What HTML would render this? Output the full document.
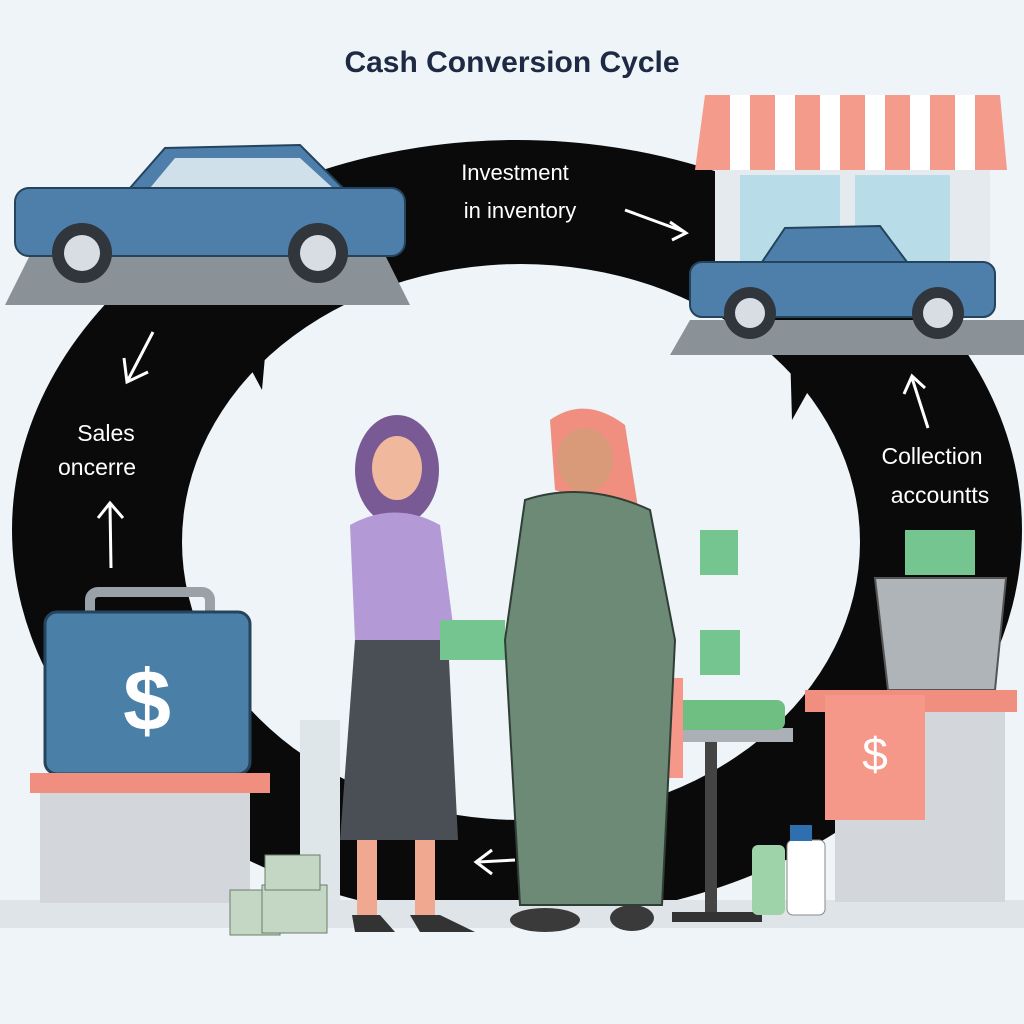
<!DOCTYPE html>
<html><head><meta charset="utf-8"><style>
html,body{margin:0;padding:0;background:#eef4f7}
svg{display:block}
text{font-family:"Liberation Sans",sans-serif}
</style></head><body>
<svg width="1024" height="1024" viewBox="0 0 1024 1024" xmlns="http://www.w3.org/2000/svg">
<rect width="1024" height="1024" fill="#eef4f7"/>
<!-- ring -->
<path fill-rule="evenodd" fill="#0a0a0a" d="M12,530 A505,390 0 1,0 1022,530 A505,390 0 1,0 12,530 Z M182,542 A339,278 0 1,0 860,542 A339,278 0 1,0 182,542 Z"/>
<polygon points="200,330 270,300 262,390 238,345" fill="#0a0a0a"/>
<polygon points="790,350 840,345 850,400 820,370 792,420" fill="#0a0a0a"/>
<rect x="0" y="920" width="1024" height="104" fill="#eef4f7"/>
<rect x="0" y="900" width="1024" height="28" fill="#dfe4e8"/>
<text x="512" y="72" text-anchor="middle" font-size="30" font-weight="bold" fill="#1e2a44">Cash Conversion Cycle</text>
<text x="515" y="180" text-anchor="middle" font-size="22" fill="#fff">Investment</text>
<text x="520" y="218" text-anchor="middle" font-size="22" fill="#fff">in inventory</text>
<path d="M625,210 L685,232 M670,222 L686,233 L672,240" stroke="#fff" stroke-width="3" fill="none"/>
<text x="106" y="441" text-anchor="middle" font-size="23" fill="#fff">Sales</text>
<text x="97" y="475" text-anchor="middle" font-size="23" fill="#fff">oncerre</text>
<path d="M153,332 L128,380 M124,358 L127,382 L148,372" stroke="#fff" stroke-width="3" fill="none"/>
<path d="M111,568 L110,505 M98,518 L110,503 L123,518" stroke="#fff" stroke-width="3" fill="none"/>
<text x="932" y="464" text-anchor="middle" font-size="23" fill="#fff">Collection</text>
<text x="940" y="503" text-anchor="middle" font-size="23" fill="#fff">accountts</text>
<path d="M928,428 L912,378 M904,394 L912,376 L925,388" stroke="#fff" stroke-width="3" fill="none"/>
<path d="M515,860 L478,862 M492,850 L476,862 L492,874" stroke="#fff" stroke-width="3" fill="none"/>
<!-- left car -->
<polygon points="5,305 410,305 385,255 30,255" fill="#8a9298"/>
<polygon points="130,188 165,148 300,145 345,190" fill="#4e7eaa" stroke="#24445e" stroke-width="2"/>
<polygon points="150,188 175,158 300,158 335,190" fill="#cfe0ea"/>
<rect x="15" y="188" width="390" height="68" rx="14" fill="#4e7eaa" stroke="#24445e" stroke-width="2"/>
<circle cx="82" cy="253" r="30" fill="#30363c"/><circle cx="82" cy="253" r="18" fill="#d7dde2"/>
<circle cx="318" cy="253" r="30" fill="#30363c"/><circle cx="318" cy="253" r="18" fill="#d7dde2"/>
<!-- shop -->
<rect x="715" y="165" width="275" height="145" fill="#e4eaee"/>
<rect x="740" y="175" width="100" height="100" fill="#b9dde8"/><rect x="855" y="175" width="95" height="100" fill="#b9dde8"/>
<polygon points="705,95 1000,95 1007,170 695,170" fill="#f59b8c"/>
<g fill="#fff"><rect x="730" y="95" width="20" height="75"/><rect x="775" y="95" width="20" height="75"/><rect x="820" y="95" width="20" height="75"/><rect x="865" y="95" width="20" height="75"/><rect x="910" y="95" width="20" height="75"/><rect x="955" y="95" width="20" height="75"/></g>
<polygon points="670,355 1024,355 1024,320 690,320" fill="#8a9298"/>
<polygon points="760,265 785,228 880,226 910,266" fill="#4e7eaa" stroke="#24445e" stroke-width="2"/>
<rect x="690" y="262" width="305" height="55" rx="12" fill="#4e7eaa" stroke="#24445e" stroke-width="2"/>
<circle cx="750" cy="313" r="26" fill="#30363c"/><circle cx="750" cy="313" r="15" fill="#d7dde2"/>
<circle cx="938" cy="313" r="26" fill="#30363c"/><circle cx="938" cy="313" r="15" fill="#d7dde2"/>
<!-- left briefcase & pedestal -->
<rect x="90" y="592" width="120" height="28" rx="8" fill="none" stroke="#9aa2a8" stroke-width="10"/>
<rect x="45" y="612" width="205" height="162" rx="12" fill="#4a7fa8" stroke="#26445c" stroke-width="3"/>
<text x="147" y="730" text-anchor="middle" font-size="86" font-weight="bold" fill="#fff">$</text>
<rect x="30" y="773" width="240" height="20" fill="#f08f80"/>
<rect x="40" y="793" width="210" height="110" fill="#d3d7db"/>
<!-- boxes -->
<rect x="300" y="720" width="40" height="180" fill="#dfe6ea"/>
<rect x="230" y="890" width="50" height="45" fill="#c4d6c4" stroke="#6a7f6a"/>
<rect x="262" y="885" width="65" height="48" fill="#c4d6c4" stroke="#6a7f6a"/>
<rect x="265" y="855" width="55" height="35" fill="#c4d6c4" stroke="#6a7f6a"/>
<!-- right pedestal & bucket -->
<polygon points="875,578 1006,578 995,690 888,690" fill="#aeb4b8" stroke="#555" stroke-width="2"/>
<rect x="905" y="530" width="70" height="45" fill="#74c590"/>
<rect x="805" y="690" width="212" height="22" fill="#f08f80"/>
<rect x="835" y="712" width="170" height="190" fill="#d3d7db"/>
<rect x="825" y="695" width="100" height="125" fill="#f5988a"/>
<text x="875" y="770" text-anchor="middle" font-size="46" fill="#fff">$</text>
<!-- table -->
<rect x="635" y="728" width="158" height="14" fill="#aab0b5"/>
<rect x="705" y="742" width="12" height="175" fill="#444"/>
<rect x="672" y="912" width="90" height="10" fill="#333"/>
<rect x="650" y="700" width="135" height="30" rx="8" fill="#6fbf83"/>
<rect x="595" y="678" width="88" height="100" fill="#f5988a"/>
<rect x="752" y="845" width="33" height="70" rx="6" fill="#9ed2a8"/>
<rect x="787" y="840" width="38" height="75" rx="6" fill="#fff" stroke="#888"/>
<rect x="790" y="825" width="22" height="16" fill="#2f6fb0"/>
<!-- woman -->
<ellipse cx="397" cy="470" rx="42" ry="55" fill="#7a5a95"/>
<ellipse cx="397" cy="468" rx="25" ry="32" fill="#f0b89c"/>
<path d="M350,525 Q395,500 440,525 L455,640 L355,640 Z" fill="#b39ad6"/>
<polygon points="355,640 448,640 458,840 340,840" fill="#4a4f55"/>
<rect x="357" y="840" width="20" height="80" fill="#f0a890"/><rect x="415" y="840" width="20" height="80" fill="#f0a890"/>
<path d="M352,915 L380,915 L395,932 L355,932 Z" fill="#333"/><path d="M410,915 L440,915 L475,932 L420,932 Z" fill="#333"/>
<rect x="440" y="620" width="65" height="40" fill="#74c590"/>
<!-- man -->
<path d="M550,420 Q585,395 625,425 L640,520 L555,490 Z" fill="#f08f80"/>
<ellipse cx="585" cy="460" rx="28" ry="32" fill="#d99a7a"/>
<path d="M525,500 Q585,480 650,510 L675,640 L662,905 L520,905 L505,640 Z" fill="#6d8a76" stroke="#2f3f35" stroke-width="2"/>
<ellipse cx="545" cy="920" rx="35" ry="12" fill="#3a3a3a"/><ellipse cx="632" cy="918" rx="22" ry="13" fill="#3a3a3a"/>
<rect x="700" y="530" width="38" height="45" fill="#74c590"/>
<rect x="700" y="630" width="40" height="45" fill="#74c590"/>
</svg>
</body></html>
